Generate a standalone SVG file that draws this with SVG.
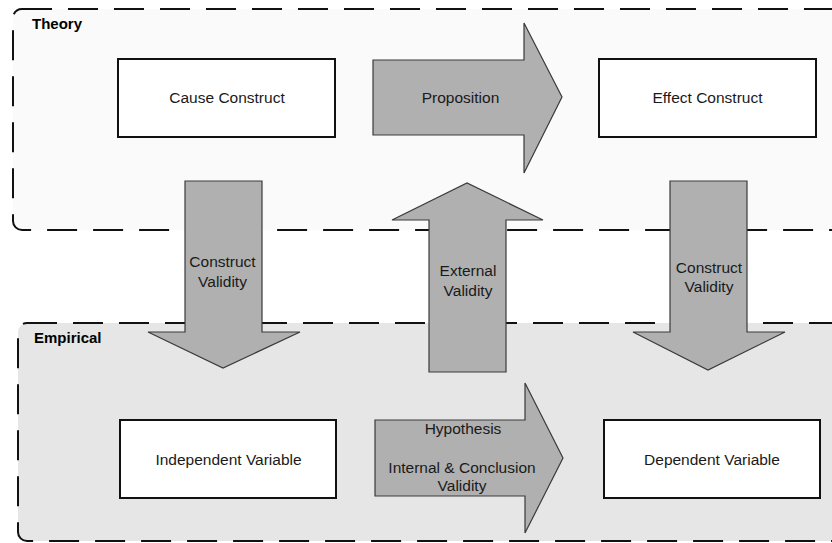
<svg xmlns="http://www.w3.org/2000/svg" width="832" height="543" viewBox="0 0 832 543">
<style>
.region{stroke:#111;stroke-width:2;stroke-dasharray:30 16}
.box{fill:#fff;stroke:#111;stroke-width:2}
.arrow{fill:#b0b0b0;stroke:#3a3a3a;stroke-width:1.2;stroke-linejoin:miter}
.t{font-family:"Liberation Sans",Arial,sans-serif;font-size:15.5px;fill:#1a1a1a;text-anchor:middle}
.lbl{font-family:"Liberation Sans",Arial,sans-serif;font-size:15px;font-weight:bold;fill:#000}
</style>
<rect width="832" height="543" fill="#fff"/>
<g id="theory">
<rect class="region" x="13" y="9" width="850" height="221" rx="9" fill="#fafafa"/>
<text class="lbl" x="32" y="28.5">Theory</text>
</g>
<g id="empirical">
<rect class="region" x="18" y="323" width="850" height="218" rx="9" fill="#e6e6e6"/>
<text class="lbl" x="34" y="343">Empirical</text>
</g>
<g id="connectors">
<g id="proposition">
<polygon class="arrow" points="373,60 524,60 524,23 562,97 524,173 524,135 373,135"/>
<text class="t" x="460.5" y="103">Proposition</text>
</g>
<g id="construct-validity-left">
<polygon class="arrow" points="185,181 262,181 262,332 300,332 223,368 148,332 185,332"/>
<text class="t" x="222.5" y="267.3">Construct</text>
<text class="t" x="222.5" y="287">Validity</text>
</g>
<g id="external-validity">
<polygon class="arrow" points="429,372 429,220 392,220 467,183 543,220 506,220 506,372"/>
<text class="t" x="468" y="276">External</text>
<text class="t" x="468" y="296">Validity</text>
</g>
<g id="construct-validity-right">
<polygon class="arrow" points="670,181 747,181 747,332 785,332 708,370 633,332 670,332"/>
<text class="t" x="709" y="272.7">Construct</text>
<text class="t" x="709" y="292">Validity</text>
</g>
<g id="hypothesis">
<polygon class="arrow" points="375,420 525,420 525,383 563,458 525,533 525,496 375,496"/>
<text class="t" x="463" y="434">Hypothesis</text>
<text class="t" x="462" y="472.7">Internal &amp; Conclusion</text>
<text class="t" x="462" y="491">Validity</text>
</g>
</g>
<g id="cause-construct">
<rect class="box" x="118" y="59" width="217" height="78"/>
<text class="t" x="227" y="103">Cause Construct</text>
</g>
<g id="effect-construct">
<rect class="box" x="599" y="59" width="217" height="78"/>
<text class="t" x="707.5" y="103">Effect Construct</text>
</g>
<g id="independent-variable">
<rect class="box" x="120" y="420" width="216" height="78"/>
<text class="t" x="228.5" y="464.5">Independent Variable</text>
</g>
<g id="dependent-variable">
<rect class="box" x="604" y="420" width="216" height="78"/>
<text class="t" x="712" y="464.5">Dependent Variable</text>
</g>
</svg>
